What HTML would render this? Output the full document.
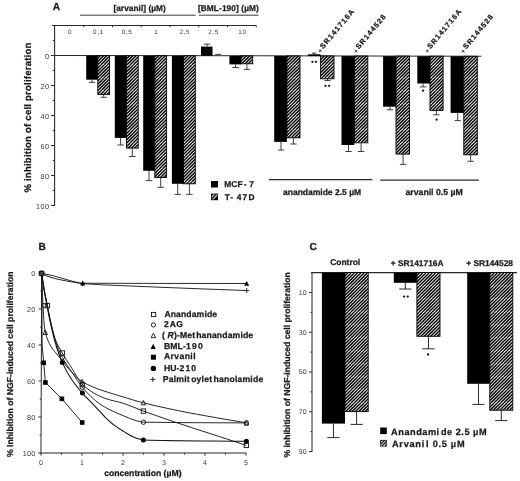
<!DOCTYPE html>
<html><head><meta charset="utf-8"><style>
html,body{margin:0;padding:0;background:#fff;}
svg{display:block;filter:blur(0.3px);}
text{text-rendering:geometricPrecision;}
</style></head><body>
<svg width="520" height="481" viewBox="0 0 520 481">
<rect width="520" height="481" fill="#fff"/>
<defs><pattern id="hatch2" patternUnits="userSpaceOnUse" width="7" height="7"><rect width="7" height="7" fill="#000"/><g stroke="#ddd" stroke-width="0.9"><line x1="-3.5" y1="7" x2="3.5" y2="0"/><line x1="0" y1="7" x2="7" y2="0"/><line x1="3.5" y1="7" x2="10.5" y2="0"/></g></pattern><pattern id="hatch" patternUnits="userSpaceOnUse" width="13" height="13"><rect width="13" height="13" fill="#e8e8e8"/><g stroke="#000" stroke-width="1.25"><line x1="-16.250" y1="13" x2="-3.250" y2="0"/><line x1="-13.000" y1="13" x2="0.000" y2="0"/><line x1="-9.750" y1="13" x2="3.250" y2="0"/><line x1="-6.500" y1="13" x2="6.500" y2="0"/><line x1="-3.250" y1="13" x2="9.750" y2="0"/><line x1="0.000" y1="13" x2="13.000" y2="0"/><line x1="3.250" y1="13" x2="16.250" y2="0"/><line x1="6.500" y1="13" x2="19.500" y2="0"/><line x1="9.750" y1="13" x2="22.750" y2="0"/><line x1="13.000" y1="13" x2="26.000" y2="0"/><line x1="16.250" y1="13" x2="29.250" y2="0"/></g></pattern></defs>
<text x="52.70" y="9.70" font-family="Liberation Sans" font-size="10.2" font-weight="bold" text-anchor="start" fill="#1a1a1a" stroke="#1a1a1a" stroke-width="0.25">A</text>
<line x1="80.00" y1="15.20" x2="195.60" y2="15.20" stroke="#3a3a3a" stroke-width="1.0"/>
<line x1="198.80" y1="15.20" x2="258.50" y2="15.20" stroke="#3a3a3a" stroke-width="1.0"/>
<text x="113.40" y="10.80" font-family="Liberation Sans" font-size="8.3" font-weight="bold" text-anchor="start" fill="#1a1a1a" letter-spacing="0.05" stroke="#1a1a1a" stroke-width="0.25">[arvanil] (µM)</text>
<text x="197.90" y="10.80" font-family="Liberation Sans" font-size="8.3" font-weight="bold" text-anchor="start" fill="#1a1a1a" letter-spacing="0.1" stroke="#1a1a1a" stroke-width="0.25">[BML-190] (µM)</text>
<line x1="52.00" y1="25.50" x2="256.30" y2="25.50" stroke="#2a2a2a" stroke-width="1"/>
<line x1="54.60" y1="25.00" x2="54.60" y2="206.00" stroke="#2a2a2a" stroke-width="1.1"/>
<line x1="51.00" y1="55.50" x2="54.60" y2="55.50" stroke="#2a2a2a" stroke-width="1"/>
<text x="49.30" y="58.50" font-family="Liberation Sans" font-size="7.3" font-weight="normal" text-anchor="end" fill="#3a3a3a" letter-spacing="0.35">0</text>
<line x1="51.00" y1="85.50" x2="54.60" y2="85.50" stroke="#2a2a2a" stroke-width="1"/>
<text x="49.30" y="88.50" font-family="Liberation Sans" font-size="7.3" font-weight="normal" text-anchor="end" fill="#3a3a3a" letter-spacing="0.35">20</text>
<line x1="51.00" y1="115.50" x2="54.60" y2="115.50" stroke="#2a2a2a" stroke-width="1"/>
<text x="49.30" y="118.50" font-family="Liberation Sans" font-size="7.3" font-weight="normal" text-anchor="end" fill="#3a3a3a" letter-spacing="0.35">40</text>
<line x1="51.00" y1="145.50" x2="54.60" y2="145.50" stroke="#2a2a2a" stroke-width="1"/>
<text x="49.30" y="148.50" font-family="Liberation Sans" font-size="7.3" font-weight="normal" text-anchor="end" fill="#3a3a3a" letter-spacing="0.35">60</text>
<line x1="51.00" y1="175.50" x2="54.60" y2="175.50" stroke="#2a2a2a" stroke-width="1"/>
<text x="49.30" y="178.50" font-family="Liberation Sans" font-size="7.3" font-weight="normal" text-anchor="end" fill="#3a3a3a" letter-spacing="0.35">80</text>
<line x1="51.00" y1="205.50" x2="54.60" y2="205.50" stroke="#2a2a2a" stroke-width="1"/>
<text x="49.30" y="208.50" font-family="Liberation Sans" font-size="7.3" font-weight="normal" text-anchor="end" fill="#3a3a3a" letter-spacing="0.35">100</text>
<line x1="52.80" y1="40.50" x2="54.60" y2="40.50" stroke="#2a2a2a" stroke-width="1"/>
<line x1="52.80" y1="70.50" x2="54.60" y2="70.50" stroke="#2a2a2a" stroke-width="1"/>
<line x1="52.80" y1="100.50" x2="54.60" y2="100.50" stroke="#2a2a2a" stroke-width="1"/>
<line x1="52.80" y1="130.50" x2="54.60" y2="130.50" stroke="#2a2a2a" stroke-width="1"/>
<line x1="52.80" y1="160.50" x2="54.60" y2="160.50" stroke="#2a2a2a" stroke-width="1"/>
<line x1="52.80" y1="190.50" x2="54.60" y2="190.50" stroke="#2a2a2a" stroke-width="1"/>
<line x1="83.75" y1="25.60" x2="83.75" y2="27.30" stroke="#2a2a2a" stroke-width="1"/>
<line x1="112.50" y1="25.60" x2="112.50" y2="27.30" stroke="#2a2a2a" stroke-width="1"/>
<line x1="141.25" y1="25.60" x2="141.25" y2="27.30" stroke="#2a2a2a" stroke-width="1"/>
<line x1="170.00" y1="25.60" x2="170.00" y2="27.30" stroke="#2a2a2a" stroke-width="1"/>
<line x1="198.75" y1="25.60" x2="198.75" y2="27.30" stroke="#2a2a2a" stroke-width="1"/>
<line x1="227.50" y1="25.60" x2="227.50" y2="27.30" stroke="#2a2a2a" stroke-width="1"/>
<line x1="256.25" y1="25.60" x2="256.25" y2="27.30" stroke="#2a2a2a" stroke-width="1"/>
<text x="70.00" y="34.30" font-family="Liberation Sans" font-size="6.3" font-weight="normal" text-anchor="middle" fill="#3a3a3a" letter-spacing="0.6">0</text>
<text x="98.40" y="34.30" font-family="Liberation Sans" font-size="6.3" font-weight="normal" text-anchor="middle" fill="#3a3a3a" letter-spacing="0.6">0,1</text>
<text x="127.10" y="34.30" font-family="Liberation Sans" font-size="6.3" font-weight="normal" text-anchor="middle" fill="#3a3a3a" letter-spacing="0.6">0,5</text>
<text x="156.20" y="34.30" font-family="Liberation Sans" font-size="6.3" font-weight="normal" text-anchor="middle" fill="#3a3a3a" letter-spacing="0.6">1</text>
<text x="184.80" y="34.30" font-family="Liberation Sans" font-size="6.3" font-weight="normal" text-anchor="middle" fill="#3a3a3a" letter-spacing="0.6">2,5</text>
<text x="213.50" y="34.30" font-family="Liberation Sans" font-size="6.3" font-weight="normal" text-anchor="middle" fill="#3a3a3a" letter-spacing="0.6">2,5</text>
<text x="242.40" y="34.30" font-family="Liberation Sans" font-size="6.3" font-weight="normal" text-anchor="middle" fill="#3a3a3a" letter-spacing="0.6">10</text>
<line x1="54.60" y1="55.45" x2="481.30" y2="56.20" stroke="#2a2a2a" stroke-width="1.05"/>
<rect x="86.20" y="55.60" width="11.60" height="24.10" fill="#000"/>
<line x1="92.00" y1="79.70" x2="92.00" y2="82.30" stroke="#2a2a2a" stroke-width="0.9"/>
<line x1="88.80" y1="82.30" x2="95.20" y2="82.30" stroke="#2a2a2a" stroke-width="0.9"/>
<rect x="97.80" y="55.63" width="11.80" height="38.77" fill="url(#hatch)" stroke="#000" stroke-width="0.9"/>
<line x1="103.70" y1="94.40" x2="103.70" y2="97.30" stroke="#2a2a2a" stroke-width="0.9"/>
<line x1="100.50" y1="97.30" x2="106.90" y2="97.30" stroke="#2a2a2a" stroke-width="0.9"/>
<rect x="114.80" y="55.66" width="11.60" height="82.24" fill="#000"/>
<line x1="120.60" y1="137.90" x2="120.60" y2="145.00" stroke="#2a2a2a" stroke-width="0.9"/>
<line x1="117.40" y1="145.00" x2="123.80" y2="145.00" stroke="#2a2a2a" stroke-width="0.9"/>
<rect x="126.40" y="55.68" width="11.80" height="92.42" fill="url(#hatch)" stroke="#000" stroke-width="0.9"/>
<line x1="132.30" y1="148.10" x2="132.30" y2="156.50" stroke="#2a2a2a" stroke-width="0.9"/>
<line x1="129.10" y1="156.50" x2="135.50" y2="156.50" stroke="#2a2a2a" stroke-width="0.9"/>
<rect x="143.20" y="55.71" width="11.60" height="115.09" fill="#000"/>
<line x1="149.00" y1="170.80" x2="149.00" y2="180.60" stroke="#2a2a2a" stroke-width="0.9"/>
<line x1="145.80" y1="180.60" x2="152.20" y2="180.60" stroke="#2a2a2a" stroke-width="0.9"/>
<rect x="154.80" y="55.73" width="11.80" height="121.77" fill="url(#hatch)" stroke="#000" stroke-width="0.9"/>
<line x1="160.70" y1="177.50" x2="160.70" y2="187.30" stroke="#2a2a2a" stroke-width="0.9"/>
<line x1="157.50" y1="187.30" x2="163.90" y2="187.30" stroke="#2a2a2a" stroke-width="0.9"/>
<rect x="171.90" y="55.76" width="11.60" height="128.04" fill="#000"/>
<line x1="177.70" y1="183.80" x2="177.70" y2="194.40" stroke="#2a2a2a" stroke-width="0.9"/>
<line x1="174.50" y1="194.40" x2="180.90" y2="194.40" stroke="#2a2a2a" stroke-width="0.9"/>
<rect x="183.50" y="55.78" width="11.80" height="128.02" fill="url(#hatch)" stroke="#000" stroke-width="0.9"/>
<line x1="189.40" y1="183.80" x2="189.40" y2="194.40" stroke="#2a2a2a" stroke-width="0.9"/>
<line x1="186.20" y1="194.40" x2="192.60" y2="194.40" stroke="#2a2a2a" stroke-width="0.9"/>
<rect x="201.00" y="46.60" width="11.50" height="9.21" fill="#000"/>
<line x1="207.10" y1="46.60" x2="207.10" y2="44.10" stroke="#2a2a2a" stroke-width="0.9"/>
<line x1="203.90" y1="44.10" x2="210.30" y2="44.10" stroke="#2a2a2a" stroke-width="0.9"/>
<line x1="218.00" y1="55.20" x2="218.00" y2="54.40" stroke="#2a2a2a" stroke-width="0.9"/>
<line x1="215.00" y1="54.40" x2="221.00" y2="54.40" stroke="#2a2a2a" stroke-width="0.9"/>
<rect x="229.40" y="55.86" width="11.60" height="8.54" fill="#000"/>
<line x1="235.50" y1="64.40" x2="235.50" y2="67.50" stroke="#2a2a2a" stroke-width="0.9"/>
<line x1="232.30" y1="67.50" x2="238.70" y2="67.50" stroke="#2a2a2a" stroke-width="0.9"/>
<rect x="241.00" y="55.88" width="11.70" height="7.92" fill="url(#hatch)" stroke="#000" stroke-width="0.9"/>
<line x1="246.90" y1="63.80" x2="246.90" y2="69.40" stroke="#2a2a2a" stroke-width="0.9"/>
<line x1="243.70" y1="69.40" x2="250.10" y2="69.40" stroke="#2a2a2a" stroke-width="0.9"/>
<rect x="274.20" y="55.94" width="12.70" height="85.96" fill="#000"/>
<line x1="281.00" y1="141.90" x2="281.00" y2="150.00" stroke="#2a2a2a" stroke-width="0.9"/>
<line x1="277.80" y1="150.00" x2="284.20" y2="150.00" stroke="#2a2a2a" stroke-width="0.9"/>
<rect x="286.90" y="55.96" width="13.10" height="81.84" fill="url(#hatch)" stroke="#000" stroke-width="0.9"/>
<line x1="293.40" y1="137.80" x2="293.40" y2="144.00" stroke="#2a2a2a" stroke-width="0.9"/>
<line x1="290.20" y1="144.00" x2="296.60" y2="144.00" stroke="#2a2a2a" stroke-width="0.9"/>
<rect x="308.10" y="54.30" width="12.50" height="1.70" fill="#000"/>
<line x1="314.10" y1="54.80" x2="314.10" y2="53.10" stroke="#2a2a2a" stroke-width="0.9"/>
<line x1="311.90" y1="53.10" x2="316.30" y2="53.10" stroke="#2a2a2a" stroke-width="0.9"/>
<rect x="320.60" y="56.02" width="13.40" height="22.78" fill="url(#hatch)" stroke="#000" stroke-width="0.9"/>
<line x1="327.50" y1="78.80" x2="327.50" y2="80.60" stroke="#2a2a2a" stroke-width="0.9"/>
<line x1="324.30" y1="80.60" x2="330.70" y2="80.60" stroke="#2a2a2a" stroke-width="0.9"/>
<rect x="341.50" y="56.05" width="12.90" height="88.95" fill="#000"/>
<line x1="348.50" y1="145.00" x2="348.50" y2="151.50" stroke="#2a2a2a" stroke-width="0.9"/>
<line x1="345.30" y1="151.50" x2="351.70" y2="151.50" stroke="#2a2a2a" stroke-width="0.9"/>
<rect x="354.40" y="56.08" width="13.40" height="86.72" fill="url(#hatch)" stroke="#000" stroke-width="0.9"/>
<line x1="361.10" y1="142.80" x2="361.10" y2="151.50" stroke="#2a2a2a" stroke-width="0.9"/>
<line x1="357.90" y1="151.50" x2="364.30" y2="151.50" stroke="#2a2a2a" stroke-width="0.9"/>
<rect x="383.10" y="56.13" width="12.90" height="50.57" fill="#000"/>
<line x1="390.00" y1="106.70" x2="390.00" y2="109.80" stroke="#2a2a2a" stroke-width="0.9"/>
<line x1="386.80" y1="109.80" x2="393.20" y2="109.80" stroke="#2a2a2a" stroke-width="0.9"/>
<rect x="396.00" y="56.15" width="13.50" height="97.95" fill="url(#hatch)" stroke="#000" stroke-width="0.9"/>
<line x1="403.10" y1="154.10" x2="403.10" y2="164.40" stroke="#2a2a2a" stroke-width="0.9"/>
<line x1="399.90" y1="164.40" x2="406.30" y2="164.40" stroke="#2a2a2a" stroke-width="0.9"/>
<rect x="417.30" y="56.19" width="12.70" height="27.31" fill="#000"/>
<line x1="423.10" y1="83.50" x2="423.10" y2="86.90" stroke="#2a2a2a" stroke-width="0.9"/>
<line x1="419.90" y1="86.90" x2="426.30" y2="86.90" stroke="#2a2a2a" stroke-width="0.9"/>
<rect x="430.00" y="56.21" width="13.10" height="54.19" fill="url(#hatch)" stroke="#000" stroke-width="0.9"/>
<line x1="436.40" y1="110.40" x2="436.40" y2="114.80" stroke="#2a2a2a" stroke-width="0.9"/>
<line x1="433.20" y1="114.80" x2="439.60" y2="114.80" stroke="#2a2a2a" stroke-width="0.9"/>
<rect x="450.60" y="56.25" width="13.20" height="56.65" fill="#000"/>
<line x1="457.70" y1="112.90" x2="457.70" y2="120.60" stroke="#2a2a2a" stroke-width="0.9"/>
<line x1="454.50" y1="120.60" x2="460.90" y2="120.60" stroke="#2a2a2a" stroke-width="0.9"/>
<rect x="463.80" y="56.27" width="13.50" height="98.53" fill="url(#hatch)" stroke="#000" stroke-width="0.9"/>
<line x1="470.60" y1="154.80" x2="470.60" y2="161.30" stroke="#2a2a2a" stroke-width="0.9"/>
<line x1="467.40" y1="161.30" x2="473.80" y2="161.30" stroke="#2a2a2a" stroke-width="0.9"/>
<circle cx="312.4" cy="61.8" r="1.15" fill="#111"/>
<circle cx="315.9" cy="61.8" r="1.15" fill="#111"/>
<circle cx="325.5" cy="85.8" r="1.15" fill="#111"/>
<circle cx="329.1" cy="85.8" r="1.15" fill="#111"/>
<circle cx="423.1" cy="90.7" r="1.15" fill="#111"/>
<circle cx="436.6" cy="119.7" r="1.15" fill="#111"/>
<text transform="translate(320.0,53.0) rotate(-50)" font-family="Liberation Sans" font-size="7.3" font-weight="bold" fill="#1a1a1a" stroke="#1a1a1a" stroke-width="0.25" letter-spacing="1.1"><tspan dx="5.0">SR141716A</tspan></text>
<text transform="translate(355.8,53.3) rotate(-50)" font-family="Liberation Sans" font-size="7.3" font-weight="bold" fill="#1a1a1a" stroke="#1a1a1a" stroke-width="0.25" letter-spacing="1.1"><tspan dx="5.0">SR144528</tspan></text>
<text transform="translate(427.2,53.1) rotate(-50)" font-family="Liberation Sans" font-size="7.3" font-weight="bold" fill="#1a1a1a" stroke="#1a1a1a" stroke-width="0.25" letter-spacing="1.1"><tspan dx="5.0">SR141716A</tspan></text>
<text transform="translate(463.1,53.3) rotate(-50)" font-family="Liberation Sans" font-size="7.3" font-weight="bold" fill="#1a1a1a" stroke="#1a1a1a" stroke-width="0.25" letter-spacing="1.1"><tspan dx="5.0">SR144528</tspan></text>
<path transform="rotate(-50 320.3 50.7)" d="M318.60,50.70 H322.00 M320.30,49.00 V52.40" stroke="#1a1a1a" stroke-width="0.8"/>
<path transform="rotate(-50 356.0 51.2)" d="M354.30,51.20 H357.70 M356.00,49.50 V52.90" stroke="#1a1a1a" stroke-width="0.8"/>
<path transform="rotate(-50 427.4 51.0)" d="M425.70,51.00 H429.10 M427.40,49.30 V52.70" stroke="#1a1a1a" stroke-width="0.8"/>
<path transform="rotate(-50 463.2 51.3)" d="M461.50,51.30 H464.90 M463.20,49.60 V53.00" stroke="#1a1a1a" stroke-width="0.8"/>
<line x1="268.80" y1="179.60" x2="372.40" y2="179.60" stroke="#2a2a2a" stroke-width="1.2"/>
<line x1="380.20" y1="180.10" x2="478.80" y2="180.10" stroke="#2a2a2a" stroke-width="1.2"/>
<text x="283.00" y="194.60" font-family="Liberation Sans" font-size="8.5" font-weight="bold" text-anchor="start" fill="#1a1a1a" stroke="#1a1a1a" stroke-width="0.25">anandamide 2.5 µM</text>
<text x="405.50" y="194.80" font-family="Liberation Sans" font-size="8.7" font-weight="bold" text-anchor="start" fill="#1a1a1a" stroke="#1a1a1a" stroke-width="0.25">arvanil 0.5 µM</text>
<rect x="211.00" y="181.00" width="7.00" height="6.50" fill="#000"/>
<clipPath id="cb1"><rect x="211.60" y="194.20" width="5.80" height="5.40"/></clipPath>
<rect x="211.00" y="193.60" width="7.00" height="6.60" fill="#000"/>
<g clip-path="url(#cb1)" stroke="#c8c8c8" stroke-width="1.25"><line x1="206.50" y1="202.20" x2="217.10" y2="191.60"/><line x1="209.90" y1="202.20" x2="220.50" y2="191.60"/></g>
<text x="224.20" y="187.40" font-family="Liberation Sans" font-size="8.4" font-weight="bold" text-anchor="start" fill="#1a1a1a" letter-spacing="0.2" stroke="#1a1a1a" stroke-width="0.25">MCF<tspan dx='0.7'>-</tspan> 7</text>
<text x="224.80" y="200.30" font-family="Liberation Sans" font-size="8.4" font-weight="bold" text-anchor="start" fill="#1a1a1a" letter-spacing="0.7" stroke="#1a1a1a" stroke-width="0.25">T- 4<tspan dx='0.4'>7</tspan><tspan dx='0.6'>D</tspan></text>
<text transform="translate(30.7,192.6) rotate(-90)" font-family="Liberation Sans" font-size="9.6" font-weight="bold" fill="#1a1a1a" stroke="#1a1a1a" stroke-width="0.25" letter-spacing="0.2">% inhibition of cell proliferation</text>
<text x="38.50" y="250.20" font-family="Liberation Sans" font-size="10.2" font-weight="bold" text-anchor="start" fill="#1a1a1a" stroke="#1a1a1a" stroke-width="0.25">B</text>
<line x1="41.75" y1="273.00" x2="40.95" y2="453.50" stroke="#2a2a2a" stroke-width="1"/>
<line x1="40.95" y1="453.00" x2="246.20" y2="453.00" stroke="#2a2a2a" stroke-width="1.1"/>
<line x1="38.95" y1="273.00" x2="41.75" y2="273.00" stroke="#2a2a2a" stroke-width="1"/>
<text x="35.60" y="275.60" font-family="Liberation Sans" font-size="7.2" font-weight="normal" text-anchor="end" fill="#3a3a3a" letter-spacing="0.3">0</text>
<line x1="38.79" y1="309.00" x2="41.59" y2="309.00" stroke="#2a2a2a" stroke-width="1"/>
<text x="35.60" y="311.60" font-family="Liberation Sans" font-size="7.2" font-weight="normal" text-anchor="end" fill="#3a3a3a" letter-spacing="0.3">20</text>
<line x1="38.63" y1="345.00" x2="41.43" y2="345.00" stroke="#2a2a2a" stroke-width="1"/>
<text x="35.60" y="347.60" font-family="Liberation Sans" font-size="7.2" font-weight="normal" text-anchor="end" fill="#3a3a3a" letter-spacing="0.3">40</text>
<line x1="38.47" y1="381.00" x2="41.27" y2="381.00" stroke="#2a2a2a" stroke-width="1"/>
<text x="35.60" y="383.60" font-family="Liberation Sans" font-size="7.2" font-weight="normal" text-anchor="end" fill="#3a3a3a" letter-spacing="0.3">60</text>
<line x1="38.31" y1="417.00" x2="41.11" y2="417.00" stroke="#2a2a2a" stroke-width="1"/>
<text x="35.60" y="419.60" font-family="Liberation Sans" font-size="7.2" font-weight="normal" text-anchor="end" fill="#3a3a3a" letter-spacing="0.3">80</text>
<line x1="38.15" y1="453.00" x2="40.95" y2="453.00" stroke="#2a2a2a" stroke-width="1"/>
<text x="35.60" y="455.60" font-family="Liberation Sans" font-size="7.2" font-weight="normal" text-anchor="end" fill="#3a3a3a" letter-spacing="0.3">100</text>
<line x1="40.27" y1="291.00" x2="41.67" y2="291.00" stroke="#2a2a2a" stroke-width="1"/>
<line x1="40.11" y1="327.00" x2="41.51" y2="327.00" stroke="#2a2a2a" stroke-width="1"/>
<line x1="39.95" y1="363.00" x2="41.35" y2="363.00" stroke="#2a2a2a" stroke-width="1"/>
<line x1="39.79" y1="399.00" x2="41.19" y2="399.00" stroke="#2a2a2a" stroke-width="1"/>
<line x1="39.63" y1="435.00" x2="41.03" y2="435.00" stroke="#2a2a2a" stroke-width="1"/>
<line x1="41.00" y1="453.00" x2="41.00" y2="455.60" stroke="#2a2a2a" stroke-width="1"/>
<text x="41.00" y="464.60" font-family="Liberation Sans" font-size="7" font-weight="normal" text-anchor="middle" fill="#3a3a3a">0</text>
<line x1="82.00" y1="453.00" x2="82.00" y2="455.60" stroke="#2a2a2a" stroke-width="1"/>
<text x="82.00" y="464.60" font-family="Liberation Sans" font-size="7" font-weight="normal" text-anchor="middle" fill="#3a3a3a">1</text>
<line x1="123.00" y1="453.00" x2="123.00" y2="455.60" stroke="#2a2a2a" stroke-width="1"/>
<text x="123.00" y="464.60" font-family="Liberation Sans" font-size="7" font-weight="normal" text-anchor="middle" fill="#3a3a3a">2</text>
<line x1="164.00" y1="453.00" x2="164.00" y2="455.60" stroke="#2a2a2a" stroke-width="1"/>
<text x="164.00" y="464.60" font-family="Liberation Sans" font-size="7" font-weight="normal" text-anchor="middle" fill="#3a3a3a">3</text>
<line x1="205.00" y1="453.00" x2="205.00" y2="455.60" stroke="#2a2a2a" stroke-width="1"/>
<text x="205.00" y="464.60" font-family="Liberation Sans" font-size="7" font-weight="normal" text-anchor="middle" fill="#3a3a3a">4</text>
<line x1="246.00" y1="453.00" x2="246.00" y2="455.60" stroke="#2a2a2a" stroke-width="1"/>
<text x="246.00" y="464.60" font-family="Liberation Sans" font-size="7" font-weight="normal" text-anchor="middle" fill="#3a3a3a">5</text>
<line x1="61.50" y1="453.00" x2="61.50" y2="454.60" stroke="#2a2a2a" stroke-width="1"/>
<line x1="102.50" y1="453.00" x2="102.50" y2="454.60" stroke="#2a2a2a" stroke-width="1"/>
<line x1="143.50" y1="453.00" x2="143.50" y2="454.60" stroke="#2a2a2a" stroke-width="1"/>
<line x1="184.50" y1="453.00" x2="184.50" y2="454.60" stroke="#2a2a2a" stroke-width="1"/>
<line x1="225.50" y1="453.00" x2="225.50" y2="454.60" stroke="#2a2a2a" stroke-width="1"/>
<text x="104.20" y="475.70" font-family="Liberation Sans" font-size="8.65" font-weight="bold" text-anchor="start" fill="#1a1a1a" stroke="#1a1a1a" stroke-width="0.25">concentration (µM)</text>
<path d="M41.60,273.40 C42.50,278.93 43.40,285.02 44.30,290.00 C45.33,295.71 46.37,300.33 47.40,305.50 C48.37,310.33 49.33,315.78 50.30,320.00 C52.07,327.70 53.83,335.41 55.60,340.00 C57.87,345.89 60.13,349.21 62.40,353.20 C65.60,358.83 68.80,363.47 72.00,368.50 C75.40,373.84 78.80,381.12 82.20,384.30 C89.73,391.35 97.27,395.49 104.80,398.30 C111.20,400.69 117.60,401.45 124.00,403.50 C130.47,405.57 136.93,408.73 143.40,411.10 C177.73,423.69 212.07,433.97 246.40,445.40" fill="none" stroke="#111" stroke-width="0.9" stroke-linejoin="round"/>
<path d="M41.60,273.40 C42.47,278.93 43.33,285.04 44.20,290.00 C45.20,295.73 46.20,300.42 47.20,305.50 C48.17,310.41 49.13,315.68 50.10,320.00 C51.87,327.90 53.63,335.71 55.40,341.00 C57.70,347.88 60.00,352.95 62.30,357.30 C65.53,363.42 68.77,367.45 72.00,372.30 C75.43,377.45 78.87,383.27 82.30,387.30 C88.07,394.07 93.83,399.77 99.60,403.80 C103.73,406.69 107.87,408.77 112.00,410.80 C116.00,412.76 120.00,414.36 124.00,416.00 C127.67,417.51 131.33,419.26 135.00,420.30 C137.80,421.09 140.60,422.15 143.40,422.20 C177.73,422.82 212.07,422.67 246.40,422.90" fill="none" stroke="#111" stroke-width="0.9" stroke-linejoin="round"/>
<path d="M41.60,273.40 C41.83,278.93 42.07,284.64 42.30,290.00 C42.60,296.89 42.90,305.02 43.20,310.00 C43.67,317.75 44.13,324.93 44.60,328.00 C45.40,333.27 46.20,335.75 47.00,338.00 C48.67,342.70 50.33,345.40 52.00,348.00 C54.40,351.74 56.80,353.95 59.20,357.00 C61.13,359.46 63.07,362.15 65.00,364.50 C67.33,367.34 69.67,370.13 72.00,372.50 C75.37,375.92 78.73,379.66 82.10,381.60 C96.07,389.64 110.03,392.73 124.00,397.20 C130.47,399.27 136.93,401.16 143.40,402.80 C158.93,406.74 174.47,409.96 190.00,413.00 C208.80,416.68 227.60,419.60 246.40,422.90" fill="none" stroke="#111" stroke-width="0.9" stroke-linejoin="round"/>
<path d="M41.60,273.40 C42.40,273.53 43.20,273.66 44.00,273.80 C45.33,274.04 46.67,274.32 48.00,274.60 C49.33,274.88 50.67,275.18 52.00,275.50 C53.33,275.82 54.67,276.15 56.00,276.50 C57.33,276.85 58.67,277.20 60.00,277.60 C61.33,278.00 62.67,278.49 64.00,278.90 C66.00,279.51 68.00,280.07 70.00,280.60 C72.00,281.13 74.00,281.70 76.00,282.10 C78.23,282.54 80.47,283.18 82.70,283.20 C102.97,283.38 123.23,283.37 143.50,283.40 C177.90,283.45 212.30,283.47 246.70,283.50" fill="none" stroke="#111" stroke-width="0.9" stroke-linejoin="round"/>
<path d="M42.50,274.20 C43.17,274.50 43.83,274.83 44.50,275.10 C45.67,275.58 46.83,275.99 48.00,276.40 C49.33,276.86 50.67,277.30 52.00,277.70 C53.33,278.10 54.67,278.47 56.00,278.80 C57.33,279.13 58.67,279.42 60.00,279.70 C61.33,279.98 62.67,280.24 64.00,280.50 C66.00,280.88 68.00,281.25 70.00,281.60 C72.00,281.95 74.00,282.28 76.00,282.60 C78.23,282.95 80.47,283.41 82.70,283.60 C96.13,284.77 109.57,285.08 123.00,285.70 C136.67,286.33 150.33,286.85 164.00,287.40 C177.67,287.95 191.33,288.49 205.00,289.00 C218.90,289.52 232.80,290.00 246.70,290.50" fill="none" stroke="#111" stroke-width="0.9" stroke-linejoin="round"/>
<path d="M41.60,273.40 C42.43,278.93 43.27,285.05 44.10,290.00 C45.07,295.74 46.03,300.42 47.00,305.50 C47.97,310.58 48.93,316.00 49.90,320.50 C51.67,328.72 53.43,336.50 55.20,342.50 C57.57,350.54 59.93,357.33 62.30,362.60 C65.37,369.42 68.43,374.60 71.50,379.20 C75.13,384.66 78.77,388.93 82.40,393.10 C86.40,397.69 90.40,401.36 94.40,405.60 C97.87,409.27 101.33,413.45 104.80,416.80 C108.27,420.15 111.73,423.33 115.20,425.90 C118.13,428.07 121.07,429.82 124.00,431.60 C127.33,433.62 130.67,436.06 134.00,437.30 C137.13,438.46 140.27,439.80 143.40,439.90 C177.73,441.01 212.07,440.77 246.40,441.20" fill="none" stroke="#111" stroke-width="1.05" stroke-linejoin="round"/>
<path d="M41.75,273.40 L42.10,345.00 L43.70,362.80 L45.40,382.50 L61.90,398.80 L82.20,422.50" fill="none" stroke="#111" stroke-width="0.9" stroke-linejoin="round"/>
<path d="M80.20,283.60 H85.20 M82.70,281.10 V286.10" stroke="#111" stroke-width="0.9"/>
<path d="M244.20,290.50 H249.20 M246.70,288.00 V293.00" stroke="#111" stroke-width="0.9"/>
<path d="M82.70,280.60 L85.20,285.50 L80.20,285.50 Z" fill="#000"/>
<path d="M246.70,280.90 L249.20,285.80 L244.20,285.80 Z" fill="#000"/>
<path d="M45.20,330.03 L47.50,334.47 L42.90,334.47 Z" fill="none" stroke="#111" stroke-width="0.9"/>
<path d="M82.10,379.43 L84.40,383.87 L79.80,383.87 Z" fill="none" stroke="#111" stroke-width="0.9"/>
<path d="M143.40,400.43 L145.70,404.87 L141.10,404.87 Z" fill="none" stroke="#111" stroke-width="0.9"/>
<path d="M246.40,420.63 L248.70,425.07 L244.10,425.07 Z" fill="none" stroke="#111" stroke-width="0.9"/>
<circle cx="44.20" cy="305.60" r="2.2" fill="none" stroke="#111" stroke-width="0.9"/>
<circle cx="62.30" cy="357.40" r="2.2" fill="none" stroke="#111" stroke-width="0.9"/>
<circle cx="82.30" cy="387.30" r="2.2" fill="none" stroke="#111" stroke-width="0.9"/>
<circle cx="143.40" cy="422.20" r="2.2" fill="none" stroke="#111" stroke-width="0.9"/>
<circle cx="246.40" cy="422.90" r="2.2" fill="none" stroke="#111" stroke-width="0.9"/>
<rect x="45.20" y="303.40" width="4.4" height="4.4" fill="none" stroke="#111" stroke-width="0.9"/>
<rect x="60.20" y="350.80" width="4.4" height="4.4" fill="none" stroke="#111" stroke-width="0.9"/>
<rect x="80.10" y="382.40" width="4.4" height="4.4" fill="none" stroke="#111" stroke-width="0.9"/>
<rect x="141.20" y="408.90" width="4.4" height="4.4" fill="none" stroke="#111" stroke-width="0.9"/>
<rect x="244.20" y="443.20" width="4.4" height="4.4" fill="none" stroke="#111" stroke-width="0.9"/>
<circle cx="62.30" cy="362.60" r="2.5" fill="#000"/>
<circle cx="82.40" cy="393.10" r="2.5" fill="#000"/>
<circle cx="143.40" cy="439.90" r="2.5" fill="#000"/>
<circle cx="246.40" cy="441.20" r="2.5" fill="#000"/>
<rect x="41.40" y="360.50" width="4.6" height="4.6" fill="#000"/>
<rect x="43.10" y="380.20" width="4.6" height="4.6" fill="#000"/>
<rect x="59.60" y="396.50" width="4.6" height="4.6" fill="#000"/>
<rect x="79.90" y="420.20" width="4.6" height="4.6" fill="#000"/>
<rect x="39.20" y="271.10" width="4.8" height="4.6" rx="0.8" fill="#444" stroke="#000" stroke-width="1.0"/>
<rect x="151.50" y="312.40" width="4.2" height="4.2" fill="#fff" stroke="#111" stroke-width="0.9"/>
<circle cx="153.40" cy="324.90" r="2.1" fill="#fff" stroke="#111" stroke-width="0.9"/>
<path d="M153.40,333.23 L155.70,337.67 L151.10,337.67 Z" fill="#fff" stroke="#111" stroke-width="0.9"/>
<path d="M153.20,343.81 L155.80,348.89 L150.60,348.89 Z" fill="#000"/>
<rect x="150.90" y="354.70" width="5.0" height="5.0" fill="#000"/>
<circle cx="153.40" cy="368.40" r="2.7" fill="#000"/>
<path d="M150.30,379.40 H155.30 M152.80,376.90 V381.90" stroke="#111" stroke-width="0.9"/>
<text x="164.40" y="316.70" font-family="Liberation Sans" font-size="8.6" font-weight="bold" text-anchor="start" fill="#1a1a1a" letter-spacing="0.12" stroke="#1a1a1a" stroke-width="0.25">Anandamide</text>
<text x="164.00" y="327.10" font-family="Liberation Sans" font-size="8.6" font-weight="bold" text-anchor="start" fill="#1a1a1a" letter-spacing="0.3" stroke="#1a1a1a" stroke-width="0.25">2<tspan dx='0.6'>AG</tspan></text>
<text x="162.0" y="337.8" font-family="Liberation Sans" font-size="8.6" font-weight="bold" fill="#1a1a1a" stroke="#1a1a1a" stroke-width="0.25" letter-spacing="0.15">( <tspan font-style="italic">R</tspan>)-Met<tspan dx="1">hanandamide</tspan></text>
<text x="164.00" y="348.70" font-family="Liberation Sans" font-size="8.6" font-weight="bold" text-anchor="start" fill="#1a1a1a" letter-spacing="0.1" stroke="#1a1a1a" stroke-width="0.25">BML-<tspan letter-spacing='1.3'>190</tspan></text>
<text x="164.00" y="359.40" font-family="Liberation Sans" font-size="8.6" font-weight="bold" text-anchor="start" fill="#1a1a1a" letter-spacing="0.4" stroke="#1a1a1a" stroke-width="0.25">Arvanil</text>
<text x="164.00" y="370.60" font-family="Liberation Sans" font-size="8.6" font-weight="bold" text-anchor="start" fill="#1a1a1a" letter-spacing="0.1" stroke="#1a1a1a" stroke-width="0.25">HU-<tspan letter-spacing='1.1'>210</tspan></text>
<text x="162.80" y="381.60" font-family="Liberation Sans" font-size="8.6" font-weight="bold" text-anchor="start" fill="#1a1a1a" letter-spacing="0.22" stroke="#1a1a1a" stroke-width="0.25">Palmit<tspan dx='1.2'>oylet</tspan><tspan dx='1.2'>hanolamide</tspan></text>
<text transform="translate(12.8,457) rotate(-90)" font-family="Liberation Sans" font-size="8.65" font-weight="bold" fill="#1a1a1a" stroke="#1a1a1a" stroke-width="0.25">% Inhibition of NGF-induced cell proliferation</text>
<text x="309.40" y="250.10" font-family="Liberation Sans" font-size="10.2" font-weight="bold" text-anchor="start" fill="#1a1a1a" stroke="#1a1a1a" stroke-width="0.25">C</text>
<line x1="312.00" y1="272.30" x2="312.00" y2="452.00" stroke="#2a2a2a" stroke-width="1"/>
<line x1="311.00" y1="272.60" x2="517.00" y2="272.60" stroke="#2a2a2a" stroke-width="1.2"/>
<line x1="309.00" y1="292.48" x2="312.00" y2="292.48" stroke="#2a2a2a" stroke-width="1"/>
<text x="306.60" y="294.98" font-family="Liberation Sans" font-size="7" font-weight="normal" text-anchor="end" fill="#3a3a3a">10</text>
<line x1="309.00" y1="332.23" x2="312.00" y2="332.23" stroke="#2a2a2a" stroke-width="1"/>
<text x="306.60" y="334.73" font-family="Liberation Sans" font-size="7" font-weight="normal" text-anchor="end" fill="#3a3a3a">30</text>
<line x1="309.00" y1="371.98" x2="312.00" y2="371.98" stroke="#2a2a2a" stroke-width="1"/>
<text x="306.60" y="374.48" font-family="Liberation Sans" font-size="7" font-weight="normal" text-anchor="end" fill="#3a3a3a">50</text>
<line x1="309.00" y1="411.73" x2="312.00" y2="411.73" stroke="#2a2a2a" stroke-width="1"/>
<text x="306.60" y="414.23" font-family="Liberation Sans" font-size="7" font-weight="normal" text-anchor="end" fill="#3a3a3a">70</text>
<line x1="309.00" y1="451.48" x2="312.00" y2="451.48" stroke="#2a2a2a" stroke-width="1"/>
<text x="306.60" y="453.98" font-family="Liberation Sans" font-size="7" font-weight="normal" text-anchor="end" fill="#3a3a3a">90</text>
<line x1="310.50" y1="312.35" x2="312.00" y2="312.35" stroke="#2a2a2a" stroke-width="1"/>
<line x1="310.50" y1="352.10" x2="312.00" y2="352.10" stroke="#2a2a2a" stroke-width="1"/>
<line x1="310.50" y1="391.85" x2="312.00" y2="391.85" stroke="#2a2a2a" stroke-width="1"/>
<line x1="310.50" y1="431.60" x2="312.00" y2="431.60" stroke="#2a2a2a" stroke-width="1"/>
<text x="330.20" y="265.20" font-family="Liberation Sans" font-size="8.45" font-weight="bold" text-anchor="start" fill="#1a1a1a" stroke="#1a1a1a" stroke-width="0.25">Control</text>
<text x="390.80" y="265.50" font-family="Liberation Sans" font-size="8.35" font-weight="bold" text-anchor="start" fill="#1a1a1a" stroke="#1a1a1a" stroke-width="0.25">+ SR141716A</text>
<text x="466.20" y="265.50" font-family="Liberation Sans" font-size="8.38" font-weight="bold" text-anchor="start" fill="#1a1a1a" stroke="#1a1a1a" stroke-width="0.25">+ SR144528</text>
<rect x="321.90" y="272.60" width="23.10" height="151.00" fill="#000"/>
<line x1="333.45" y1="423.60" x2="333.45" y2="437.60" stroke="#2a2a2a" stroke-width="1"/>
<line x1="327.35" y1="437.60" x2="339.55" y2="437.60" stroke="#2a2a2a" stroke-width="1"/>
<rect x="345.00" y="272.60" width="23.20" height="139.00" fill="url(#hatch)" stroke="#000" stroke-width="0.9"/>
<line x1="356.60" y1="411.60" x2="356.60" y2="424.40" stroke="#2a2a2a" stroke-width="1"/>
<line x1="350.50" y1="424.40" x2="362.70" y2="424.40" stroke="#2a2a2a" stroke-width="1"/>
<rect x="393.80" y="272.60" width="23.10" height="10.20" fill="#000"/>
<line x1="405.35" y1="282.80" x2="405.35" y2="289.00" stroke="#2a2a2a" stroke-width="1"/>
<line x1="399.25" y1="289.00" x2="411.45" y2="289.00" stroke="#2a2a2a" stroke-width="1"/>
<rect x="416.90" y="272.60" width="23.10" height="63.70" fill="url(#hatch)" stroke="#000" stroke-width="0.9"/>
<line x1="428.45" y1="336.30" x2="428.45" y2="348.80" stroke="#2a2a2a" stroke-width="1"/>
<line x1="422.35" y1="348.80" x2="434.55" y2="348.80" stroke="#2a2a2a" stroke-width="1"/>
<rect x="467.20" y="272.60" width="22.60" height="111.20" fill="#000"/>
<line x1="478.50" y1="383.80" x2="478.50" y2="404.40" stroke="#2a2a2a" stroke-width="1"/>
<line x1="472.40" y1="404.40" x2="484.60" y2="404.40" stroke="#2a2a2a" stroke-width="1"/>
<rect x="489.80" y="272.60" width="23.00" height="137.60" fill="url(#hatch)" stroke="#000" stroke-width="0.9"/>
<line x1="501.30" y1="410.20" x2="501.30" y2="420.60" stroke="#2a2a2a" stroke-width="1"/>
<line x1="495.20" y1="420.60" x2="507.40" y2="420.60" stroke="#2a2a2a" stroke-width="1"/>
<circle cx="404.1" cy="296.6" r="1.15" fill="#111"/>
<circle cx="407.7" cy="296.6" r="1.15" fill="#111"/>
<circle cx="428.1" cy="354.5" r="1.15" fill="#111"/>
<rect x="380.20" y="427.50" width="6.60" height="6.60" fill="#000"/>
<clipPath id="cb2"><rect x="380.80" y="440.50" width="5.40" height="5.40"/></clipPath>
<rect x="380.20" y="439.90" width="6.60" height="6.60" fill="#000"/>
<g clip-path="url(#cb2)" stroke="#c8c8c8" stroke-width="1.25"><line x1="374.70" y1="448.50" x2="385.30" y2="437.90"/><line x1="377.90" y1="448.50" x2="388.50" y2="437.90"/><line x1="381.10" y1="448.50" x2="391.70" y2="437.90"/></g>
<text x="391.10" y="434.90" font-family="Liberation Sans" font-size="9.2" font-weight="bold" text-anchor="start" fill="#1a1a1a" letter-spacing="0.52" stroke="#1a1a1a" stroke-width="0.25">Anandami<tspan dx='1.2'>de</tspan> 2.5 µM</text>
<text x="392.00" y="446.70" font-family="Liberation Sans" font-size="9.2" font-weight="bold" text-anchor="start" fill="#1a1a1a" letter-spacing="0.72" stroke="#1a1a1a" stroke-width="0.25">Arvani<tspan dx='1.2'>l</tspan> 0.5 µM</text>
<text transform="translate(289.7,457.6) rotate(-90)" font-family="Liberation Sans" font-size="8.65" font-weight="bold" fill="#1a1a1a" stroke="#1a1a1a" stroke-width="0.25">% inhibition of NGF-induced cell proliferation</text>
</svg>
</body></html>
